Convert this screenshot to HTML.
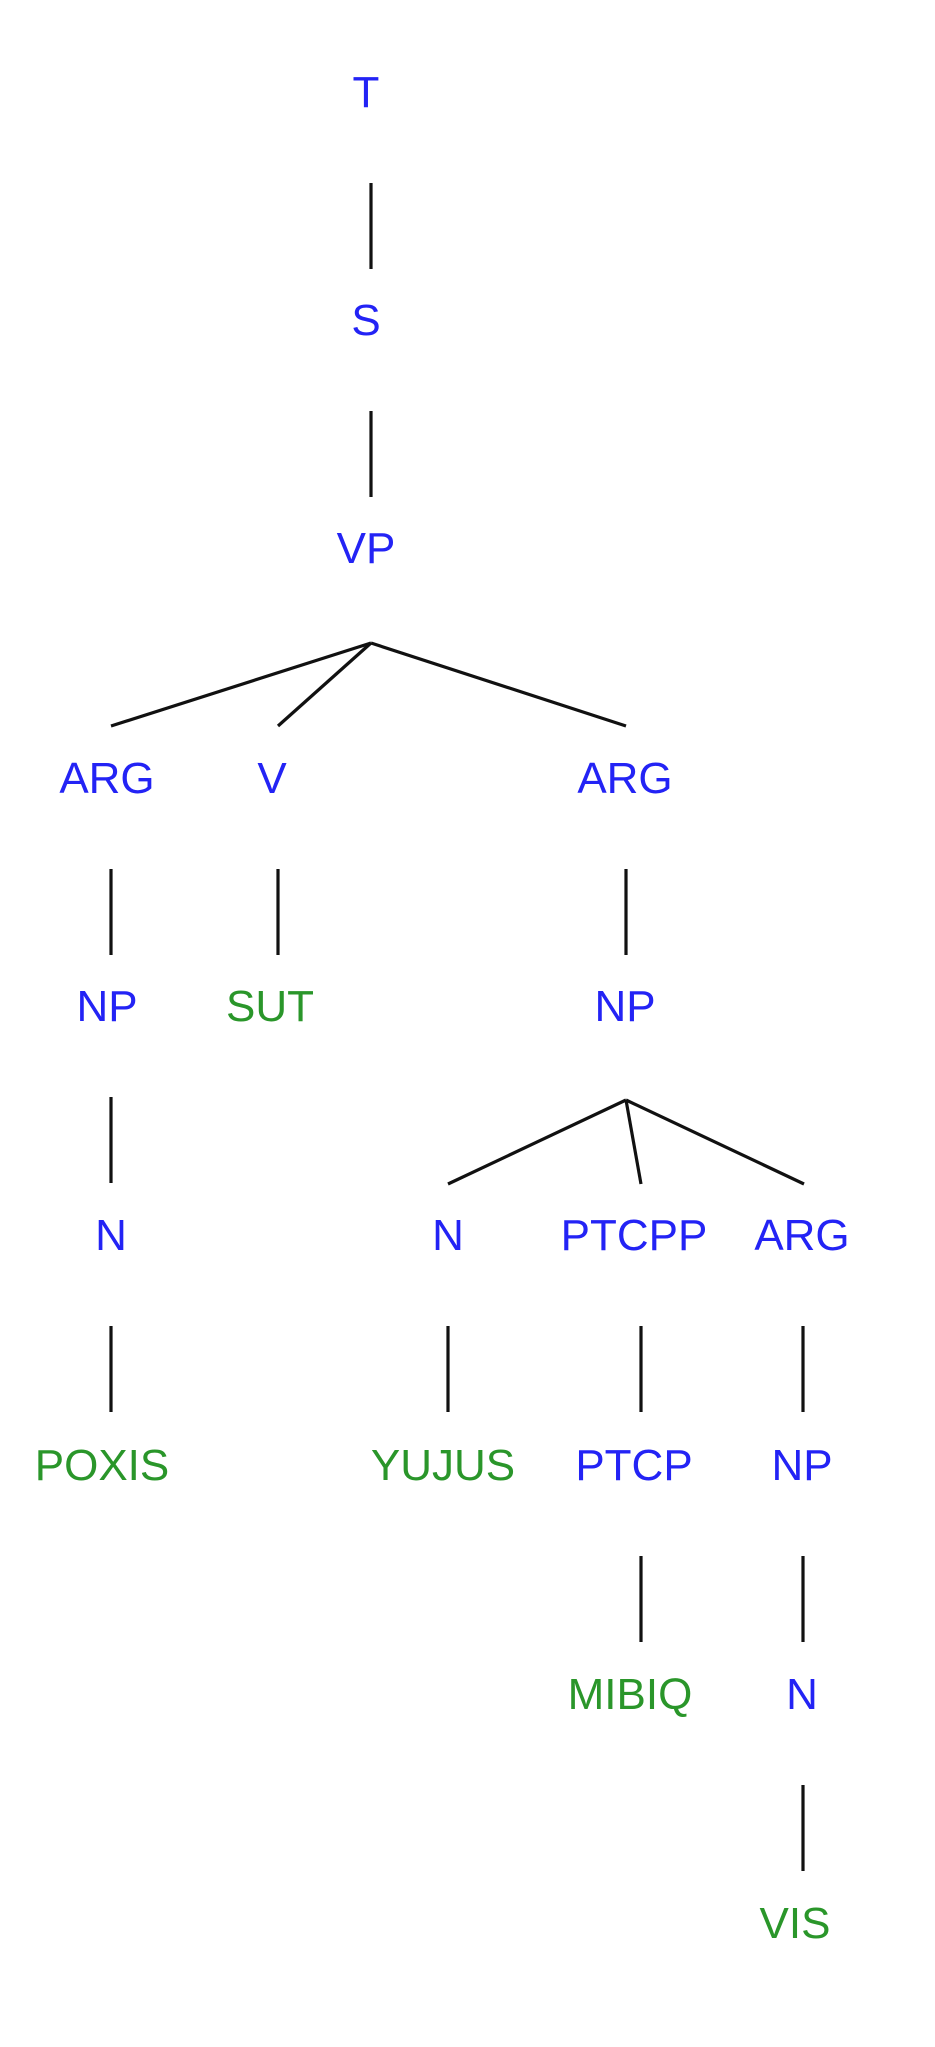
<!DOCTYPE html>
<html><head><meta charset="utf-8"><style>
html,body{margin:0;padding:0;background:#fff;}
svg{display:block;}
text{font-family:"Liberation Sans",Arial,sans-serif;font-size:44px;text-anchor:middle;}
.b{fill:#2323f5;}
.g{fill:#2a962a;}
line{stroke:#111;stroke-width:3.2;}
</style></head><body>
<svg width="935" height="2047" viewBox="0 0 935 2047">
<line x1="371" y1="183" x2="371" y2="269"/>
<line x1="371" y1="411" x2="371" y2="497"/>
<line x1="111" y1="869" x2="111" y2="955"/>
<line x1="278" y1="869" x2="278" y2="955"/>
<line x1="626" y1="869" x2="626" y2="955"/>
<line x1="111" y1="1097" x2="111" y2="1183"/>
<line x1="111" y1="1326" x2="111" y2="1412"/>
<line x1="448" y1="1326" x2="448" y2="1412"/>
<line x1="641" y1="1326" x2="641" y2="1412"/>
<line x1="803" y1="1326" x2="803" y2="1412"/>
<line x1="641" y1="1556" x2="641" y2="1642"/>
<line x1="803" y1="1556" x2="803" y2="1642"/>
<line x1="803" y1="1785" x2="803" y2="1871"/>
<line x1="371" y1="643" x2="111" y2="726"/>
<line x1="371" y1="643" x2="278" y2="726"/>
<line x1="371" y1="643" x2="626" y2="726"/>
<line x1="626" y1="1100" x2="448" y2="1184"/>
<line x1="626" y1="1100" x2="641" y2="1184"/>
<line x1="626" y1="1100" x2="804" y2="1184"/>
<text class="b" x="366" y="107">T</text>
<text class="b" x="366" y="335">S</text>
<text class="b" x="366" y="563">VP</text>
<text class="b" x="107" y="793">ARG</text>
<text class="b" x="272" y="793">V</text>
<text class="b" x="625" y="793">ARG</text>
<text class="b" x="107" y="1021">NP</text>
<text class="g" x="270" y="1021">SUT</text>
<text class="b" x="625" y="1021">NP</text>
<text class="b" x="111" y="1250">N</text>
<text class="b" x="448" y="1250">N</text>
<text class="b" x="634" y="1250">PTCPP</text>
<text class="b" x="802" y="1250">ARG</text>
<text class="g" x="102" y="1480">POXIS</text>
<text class="g" x="443" y="1480">YUJUS</text>
<text class="b" x="634" y="1480">PTCP</text>
<text class="b" x="802" y="1480">NP</text>
<text class="g" x="630" y="1709">MIBIQ</text>
<text class="b" x="802" y="1709">N</text>
<text class="g" x="795" y="1938">VIS</text>
</svg>
</body></html>
